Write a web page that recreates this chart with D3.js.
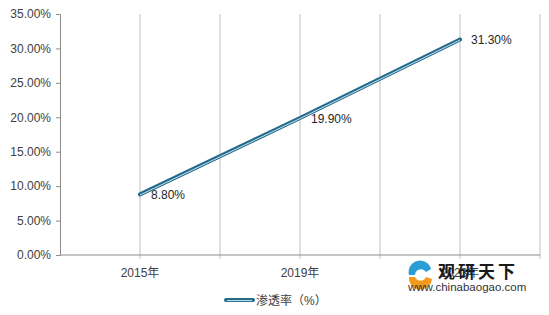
<!DOCTYPE html>
<html>
<head>
<meta charset="utf-8">
<script src="https://cdn.jsdelivr.net/npm/d3@7"></script>
<style>
  body { margin: 0; background: #fff; }
  text { font-family: "Liberation Sans", "Noto Sans CJK SC", sans-serif; }
</style>
</head>
<body>
<div id="chart-area"></div>
<script>
// Data
const years = ["2015年", "2019年", "2023年"];
const rates = [8.8, 19.9, 31.3];
const yTicks = [0, 5, 10, 15, 20, 25, 30, 35];
const seriesName = "渗透率（%）";

const W = 549, H = 315;
const margin = { top: 14, right: 9, bottom: 60, left: 60 };
const width = W - margin.left - margin.right;
const height = H - margin.top - margin.bottom;

const svg = d3.select("#chart-area").append("svg")
    .attr("width", W).attr("height", H);

const g = svg.append("g")
    .attr("transform", `translate(${margin.left}, ${margin.top})`);

//Scales
const xScale = d3.scaleBand().domain(years).range([0, width]);
const yScale = d3.scaleLinear().domain([0, 35]).range([height, 0]);
const cx = (d) => xScale(d) + xScale.bandwidth() / 2;

//Vertical gridlines (category boundaries and centres)
const gridX = [];
years.forEach((y) => {
    gridX.push(cx(y));
    gridX.push(xScale(y) + xScale.bandwidth());
});
g.selectAll(".vgrid").data(gridX).enter().append("line")
    .attr("class", "vgrid")
    .attr("x1", (d) => d).attr("x2", (d) => d)
    .attr("y1", 0).attr("y2", height + 4)
    .attr("stroke", "#bfbfbf").attr("stroke-width", 1);

//Axes
const yAxis = g.append("g")
    .call(d3.axisLeft(yScale).tickValues(yTicks)
        .tickFormat((d) => d3.format(".2f")(d) + "%").tickSize(4).tickPadding(5));
yAxis.select(".domain").attr("stroke", "#8c8c8c");
yAxis.selectAll(".tick line").attr("stroke", "#8c8c8c");
yAxis.selectAll("text").attr("font-size", "12px").attr("fill", "#404040");

g.append("line")
    .attr("x1", 0).attr("x2", width)
    .attr("y1", height).attr("y2", height)
    .attr("stroke", "#8c8c8c");

g.selectAll(".xlab").data(years).enter().append("text")
    .attr("class", "xlab")
    .attr("x", (d) => cx(d))
    .attr("y", height + 22)
    .attr("text-anchor", "middle")
    .attr("font-size", "12px")
    .attr("fill", "#404040")
    .text((d) => d);

//Line
const line = d3.line()
    .x((d, i) => cx(years[i]))
    .y((d) => yScale(d));

g.append("path").datum(rates)
    .attr("d", line)
    .attr("fill", "none")
    .attr("stroke", "#226b8c")
    .attr("stroke-width", 4)
    .attr("stroke-linecap", "round");
g.append("path").datum(rates)
    .attr("d", line)
    .attr("fill", "none")
    .attr("stroke", "#dfeef4")
    .attr("stroke-width", 0.9)
    .attr("transform", "translate(0, 0.6)");

//Data labels
g.selectAll(".dlab").data(rates).enter().append("text")
    .attr("class", "dlab")
    .attr("x", (d, i) => cx(years[i]) + 11)
    .attr("y", (d) => yScale(d) + 5)
    .attr("font-size", "12px")
    .attr("fill", "#262626")
    .text((d) => d3.format(".2f")(d) + "%");

//Legend
const legend = svg.append("g").attr("transform", "translate(226, 300)");
legend.append("line")
    .attr("x1", 0).attr("x2", 27).attr("y1", 0).attr("y2", 0)
    .attr("stroke", "#226b8c").attr("stroke-width", 4).attr("stroke-linecap", "round");
legend.append("line")
    .attr("x1", 1).attr("x2", 26).attr("y1", 0.6).attr("y2", 0.6)
    .attr("stroke", "#dfeef4").attr("stroke-width", 0.9);
legend.append("text")
    .attr("x", 30).attr("y", 4.5)
    .attr("font-size", "12px").attr("fill", "#404040")
    .text(seriesName);

//Watermark
const wm = svg.append("g").attr("transform", "translate(408, 262)");
wm.append("path")
    .attr("d", "M1,13 A11,11 0 0 1 23,7 L18,10 A6,6 0 0 0 7,13 Z")
    .attr("fill", "#2a9fd6");
wm.append("path")
    .attr("d", "M1,15 A11,11 0 0 0 24,17 L18,15 A6,6 0 0 1 7,15 Z")
    .attr("fill", "#f39a1e");
wm.append("text")
    .attr("x", 30).attr("y", 16)
    .attr("font-family", "Noto Sans CJK SC")
    .attr("font-weight", "bold")
    .attr("font-size", "17px")
    .attr("letter-spacing", "3px")
    .attr("fill", "#1a1a1a")
    .text("观研天下");
wm.append("text")
    .attr("x", 0).attr("y", 29)
    .attr("font-size", "11.5px")
    .attr("fill", "#333")
    .text("www.chinabaogao.com");
</script>
</body>
</html>
